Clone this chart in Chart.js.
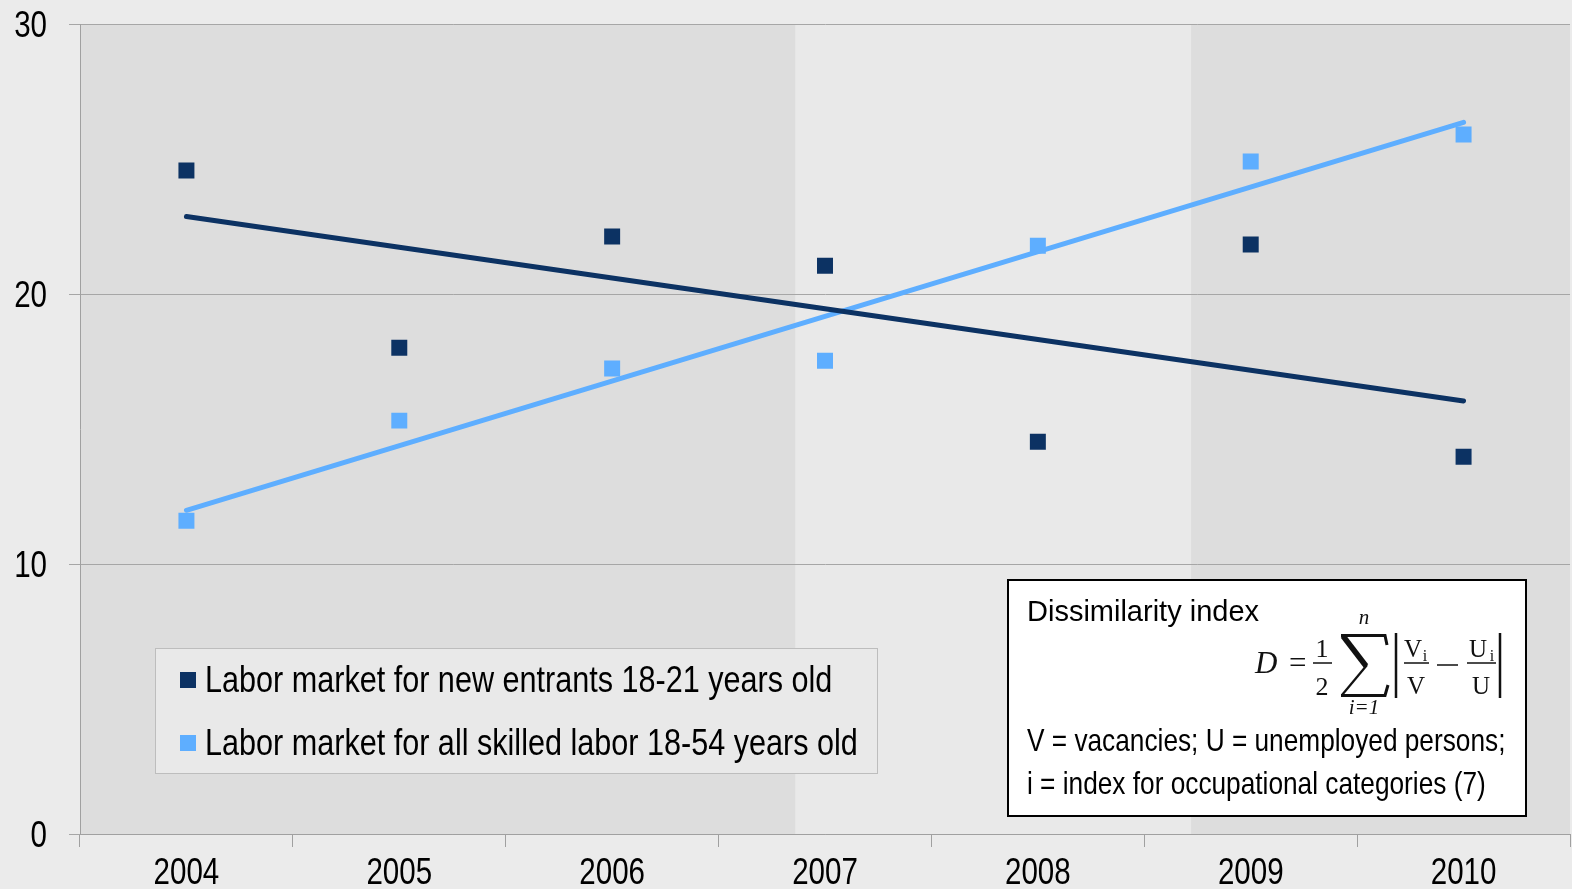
<!DOCTYPE html>
<html>
<head>
<meta charset="utf-8">
<script src="https://cdn.jsdelivr.net/npm/chart.js@4.4.0/dist/chart.umd.min.js"></script>
<style>
  html, body { margin: 0; padding: 0; background: #EBEBEB; }
</style>
</head>
<body>
<canvas id="canvasdissimilarity" width="1572" height="889"></canvas>
<script>
// dados
var years = ['2004', '2005', '2006', '2007', '2008', '2009', '2010'];
var newEntrants = [24.57, 18.01, 22.13, 21.05, 14.53, 21.83, 13.97];
var allSkilled = [11.60, 15.31, 17.24, 17.53, 21.79, 24.91, 25.91];
// linhas de tendencia (so os pontos das pontas)
var trendNewEntrants = [22.87, null, null, null, null, null, 16.04];
var trendAllSkilled = [11.99, null, null, null, null, null, 26.36];
var yTicks = [0, 10, 20, 30];
// periodos sombreados (em anos)
var shadedFrom = [2003.5, 2008.72];
var shadedTo = [2006.86, 2010.5];

var labelNew = 'Labor market for new entrants 18-21 years old';
var labelAll = 'Labor market for all skilled labor 18-54 years old';
var darkBlue = '#0C3263';
var lightBlue = '#5EAEFF';
var sans = "'Liberation Sans', Arial, sans-serif";
var serif = "'Liberation Serif', 'DejaVu Serif', serif";

// texto estreito (tipo Arial Narrow)
function narrowText(ctx, text, x, y, size, align, baseline) {
  ctx.save();
  ctx.translate(x, y);
  ctx.scale(0.82, 1);
  ctx.font = size + 'px ' + sans;
  ctx.textAlign = align || 'left';
  ctx.textBaseline = baseline || 'alphabetic';
  ctx.fillText(text, 0, 0);
  ctx.restore();
}

// fundo e faixas
var bandsPlugin = {
  id: 'bands',
  beforeDraw: function (chart) {
    var ctx = chart.ctx;
    var a = chart.chartArea;
    var x = chart.scales.x;
    ctx.save();
    ctx.fillStyle = '#EBEBEB';
    ctx.fillRect(0, 0, chart.width, chart.height);
    ctx.fillStyle = '#E9E9E9';
    ctx.fillRect(a.left, a.top, a.right - a.left, a.bottom - a.top);
    ctx.fillStyle = '#DDDDDD';
    for (var i = 0; i < shadedFrom.length; i++) {
      var x1 = x.getPixelForValue(shadedFrom[i] - 2004);
      var x2 = x.getPixelForValue(shadedTo[i] - 2004);
      x1 = Math.max(x1, a.left);
      x2 = Math.min(x2, a.right);
      ctx.fillRect(x1, a.top, x2 - x1, a.bottom - a.top);
    }
    ctx.restore();
  }
};

// rotulos dos eixos com fonte estreita
var tickLabelsPlugin = {
  id: 'tickLabels',
  afterDraw: function (chart) {
    var ctx = chart.ctx;
    var xs = chart.scales.x;
    var ys = chart.scales.y;
    ctx.save();
    ctx.fillStyle = '#000';
    xs.ticks.forEach(function (t, i) {
      narrowText(ctx, xs.getLabelForValue(t.value), xs.getPixelForTick(i), 884, 36, 'center');
    });
    ys.ticks.forEach(function (t) {
      narrowText(ctx, String(t.value), 47, ys.getPixelForValue(t.value) + 12.5, 36, 'right');
    });
    ctx.restore();
  }
};

// legenda e caixa da formula
var boxesPlugin = {
  id: 'boxes',
  afterDraw: function (chart) {
    var ctx = chart.ctx;
    var ds = chart.data.datasets;
    ctx.save();
    // legenda
    ctx.fillStyle = '#E9E9E9';
    ctx.fillRect(155.5, 648.5, 722, 125);
    ctx.strokeStyle = '#BDBDBD';
    ctx.lineWidth = 1;
    ctx.strokeRect(155.5, 648.5, 722, 125);
    var items = [ds[2], ds[3]];
    for (var i = 0; i < items.length; i++) {
      var y = 672 + i * 63;
      ctx.fillStyle = items[i].backgroundColor;
      ctx.fillRect(180, y, 16, 16);
      ctx.fillStyle = '#000';
      narrowText(ctx, items[i].label, 205, y + 20, 37.3, 'left');
    }

    // formula
    ctx.fillStyle = '#FFFFFF';
    ctx.fillRect(1008, 580, 518, 236);
    ctx.strokeStyle = '#000';
    ctx.lineWidth = 2;
    ctx.strokeRect(1008, 580, 518, 236);
    ctx.fillStyle = '#000';
    ctx.textAlign = 'left';
    ctx.font = '29px ' + sans;
    ctx.fillText('Dissimilarity index', 1027, 621);
    narrowText(ctx, 'V = vacancies; U = unemployed persons;', 1027, 751, 32, 'left');
    narrowText(ctx, 'i = index for occupational categories (7)', 1027, 794, 32, 'left');

    ctx.fillStyle = '#111';
    ctx.font = 'italic 31px ' + serif;
    ctx.fillText('D', 1255, 673);
    ctx.font = '31px ' + serif;
    ctx.fillText('=', 1289, 673);
    ctx.textAlign = 'center';
    ctx.font = '26px ' + serif;
    ctx.fillText('1', 1322, 657);
    ctx.fillText('2', 1322, 695);
    ctx.font = '25px ' + serif;
    ctx.fillText('V', 1413, 657);
    ctx.fillText('V', 1416, 694);
    ctx.fillText('U', 1478, 657);
    ctx.fillText('U', 1481, 694);
    ctx.font = '16px ' + serif;
    ctx.fillText('i', 1425, 661);
    ctx.fillText('i', 1492, 661);
    ctx.font = 'italic 21px ' + serif;
    ctx.fillText('n', 1364, 624);
    ctx.fillText('i=1', 1364, 714);

    ctx.strokeStyle = '#111';
    // sigma
    ctx.lineCap = 'butt';
    ctx.lineWidth = 3;
    ctx.beginPath();
    ctx.moveTo(1341, 635.5); ctx.lineTo(1385, 635.5); ctx.lineTo(1387, 645);
    ctx.moveTo(1341, 695.5); ctx.lineTo(1385, 695.5); ctx.lineTo(1388, 685);
    ctx.stroke();
    ctx.lineWidth = 5.5;
    ctx.beginPath();
    ctx.moveTo(1343, 636); ctx.lineTo(1366, 666);
    ctx.stroke();
    ctx.lineWidth = 2.2;
    ctx.beginPath();
    ctx.moveTo(1367, 665); ctx.lineTo(1342, 695);
    ctx.stroke();
    // fracoes e barras
    ctx.lineWidth = 1.6;
    ctx.beginPath();
    ctx.moveTo(1313, 663); ctx.lineTo(1332, 663);
    ctx.moveTo(1404, 663); ctx.lineTo(1429, 663);
    ctx.moveTo(1467, 663); ctx.lineTo(1496, 663);
    ctx.moveTo(1437, 665); ctx.lineTo(1458, 665);
    ctx.stroke();
    ctx.lineWidth = 2.5;
    ctx.beginPath();
    ctx.moveTo(1396, 633); ctx.lineTo(1396, 698);
    ctx.moveTo(1500, 633); ctx.lineTo(1500, 698);
    ctx.stroke();
    ctx.restore();
  }
};

var ctx = document.getElementById('canvasdissimilarity').getContext('2d');
var myChart = new Chart(ctx, {
  type: 'line',
  data: {
    labels: years,
    datasets: [{
      label: 'trend new entrants',
      data: trendNewEntrants,
      borderColor: darkBlue,
      borderWidth: 5,
      borderCapStyle: 'round',
      spanGaps: true,
      pointRadius: 0,
      order: 2
    },
    {
      label: 'trend all skilled',
      data: trendAllSkilled,
      borderColor: lightBlue,
      borderWidth: 5,
      borderCapStyle: 'round',
      spanGaps: true,
      pointRadius: 0,
      order: 2
    },
    {
      label: labelNew,
      data: newEntrants,
      showLine: false,
      pointStyle: 'rect',
      pointRadius: 11.3,
      pointBorderWidth: 0,
      backgroundColor: darkBlue,
      borderColor: darkBlue,
      order: 1
    },
    {
      label: labelAll,
      data: allSkilled,
      showLine: false,
      pointStyle: 'rect',
      pointRadius: 11.3,
      pointBorderWidth: 0,
      backgroundColor: lightBlue,
      borderColor: lightBlue,
      order: 1
    }
    ]
  },
  options: {
    responsive: false,
    animation: false,
    devicePixelRatio: 1,
    layout: {
      autoPadding: false,
      padding: { top: 24, left: 0, right: 2, bottom: 0 }
    },
    plugins: {
      legend: { display: false },
      tooltip: { enabled: false }
    },
    elements: {
      line: { tension: 0 }
    },
    scales: {
      x: {
        offset: true,
        grid: {
          offset: true,
          drawOnChartArea: false,
          drawTicks: true,
          tickLength: 13,
          color: '#A0A0A0'
        },
        border: { color: '#A0A0A0' },
        ticks: { display: false },
        afterFit: function (scale) { scale.height = 55; }
      },
      y: {
        min: 0,
        max: 30,
        afterBuildTicks: function (scale) {
          scale.ticks = yTicks.map(function (v) { return { value: v }; });
        },
        grid: {
          color: '#A6A6A6',
          tickLength: 11
        },
        border: { color: '#A0A0A0' },
        ticks: { display: false },
        afterFit: function (scale) { scale.width = 80; }
      }
    }
  },
  plugins: [bandsPlugin, tickLabelsPlugin, boxesPlugin]
});
</script>
</body>
</html>
